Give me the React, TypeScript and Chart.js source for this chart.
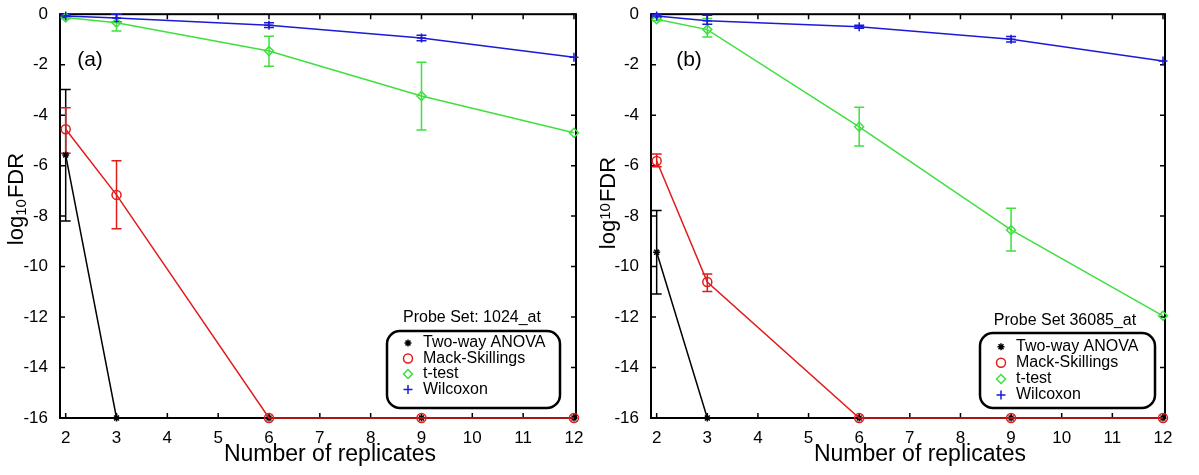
import React, { useEffect, useRef } from 'react';
import { Chart, registerables } from 'chart.js';

Chart.register(...registerables);

// ---------- data ----------
const replicates = [2, 3, 6, 9, 12];
const xTickValues = [2, 3, 4, 5, 6, 7, 8, 9, 10, 11, 12];
const yTickValues = [0, -2, -4, -6, -8, -10, -12, -14, -16];
const seriesNames = ['Two-way ANOVA', 'Mack-Skillings', 't-test', 'Wilcoxon'];

// Panel (a): Probe Set 1024_at
const anovaA = [-5.58, -16, -16, -16, -16];
const anovaHiA = [-2.98, null, null, null, null];
const anovaLoA = [-8.19, null, null, null, null];
const mackA = [-4.56, -7.16, -16, -16, -16];
const mackHiA = [-3.71, -5.81, null, null, null];
const mackLoA = [-5.51, -8.5, null, null, null];
const ttestA = [-0.13, -0.34, -1.46, -3.24, -4.7];
const ttestHiA = [-0.08, 0.0, -0.87, -1.9, null];
const ttestLoA = [-0.18, -0.67, -2.06, -4.59, null];
const wilcoxA = [-0.07, -0.15, -0.44, -0.94, -1.71];
const wilcoxHiA = [-0.02, 0.0, -0.34, -0.83, null];
const wilcoxLoA = [-0.12, -0.3, -0.53, -1.05, null];

// Panel (b): Probe Set 36085_at
const anovaB = [-9.43, -16, -16, -16, -16];
const anovaHiB = [-7.78, null, null, null, null];
const anovaLoB = [-11.09, null, null, null, null];
const mackB = [-5.82, -10.61, -16, -16, -16];
const mackHiB = [-5.54, -10.29, null, null, null];
const mackLoB = [-6.04, -10.99, null, null, null];
const ttestB = [-0.2, -0.61, -4.46, -8.55, -11.95];
const ttestHiB = [-0.14, -0.17, -3.69, -7.69, null];
const ttestLoB = [-0.26, -0.9, -5.22, -9.38, null];
const wilcoxB = [-0.07, -0.26, -0.5, -0.99, -1.85];
const wilcoxHiB = [-0.02, -0.04, -0.44, -0.88, null];
const wilcoxLoB = [-0.12, -0.4, -0.56, -1.1, null];

// ---------- style ----------
const FONT = '"Liberation Sans", Arial, sans-serif';
const COLORS = ['#000000', '#e21b1b', '#3ee03e', '#1a1ad8'];
const MARKERS = ['star', 'circle', 'diamond', 'plus'];
const X_MIN = 1.888;
const X_MAX = 12.04;

type Num = number | null;
type SeriesSpec = { values: number[]; hi: Num[]; lo: Num[] };

type PanelSpec = {
  left: number;
  width: number;
  axisWidth: number;
  padRight: number;
  panelLabel: string;
  labelPos: [number, number];
  yTitlePos: [number, number];
  yTitleMode: 'sub' | 'sup';
  xTitleX: number;
  probeText: string;
  probePos: [number, number];
  legendBox: [number, number, number, number];
  legendRows: number[];
  legendMarkerX: number;
  legendTextX: number;
  series: SeriesSpec[];
};

const panels: PanelSpec[] = [
  {
    left: 0,
    width: 598,
    axisWidth: 60,
    padRight: 22,
    panelLabel: '(a)',
    labelPos: [90, 60],
    yTitlePos: [17, 199],
    yTitleMode: 'sub',
    xTitleX: 330,
    probeText: 'Probe Set: 1024_at',
    probePos: [472, 318],
    legendBox: [387, 331, 560, 408],
    legendRows: [343, 358.5, 374, 389.5],
    legendMarkerX: 408,
    legendTextX: 423,
    series: [
      { values: anovaA, hi: anovaHiA, lo: anovaLoA },
      { values: mackA, hi: mackHiA, lo: mackLoA },
      { values: ttestA, hi: ttestHiA, lo: ttestLoA },
      { values: wilcoxA, hi: wilcoxHiA, lo: wilcoxLoA },
    ],
  },
  {
    left: 598,
    width: 601,
    axisWidth: 53,
    padRight: 34,
    panelLabel: '(b)',
    labelPos: [91, 60],
    yTitlePos: [11, 203],
    yTitleMode: 'sup',
    xTitleX: 322,
    probeText: 'Probe Set 36085_at',
    probePos: [467, 321],
    legendBox: [382, 333, 557, 408],
    legendRows: [346.7, 362.7, 379, 395],
    legendMarkerX: 403,
    legendTextX: 418,
    series: [
      { values: anovaB, hi: anovaHiB, lo: anovaLoB },
      { values: mackB, hi: mackHiB, lo: mackLoB },
      { values: ttestB, hi: ttestHiB, lo: ttestLoB },
      { values: wilcoxB, hi: wilcoxHiB, lo: wilcoxLoB },
    ],
  },
];

function drawMarker(ctx: CanvasRenderingContext2D, style: string, x: number, y: number, r: number, color: string) {
  ctx.save();
  ctx.strokeStyle = color;
  ctx.lineWidth = 1.5;
  ctx.beginPath();
  if (style === 'star') {
    for (let k = 0; k < 4; k++) {
      const a = (k * Math.PI) / 4;
      ctx.moveTo(x + r * Math.cos(a), y + r * Math.sin(a));
      ctx.lineTo(x - r * Math.cos(a), y - r * Math.sin(a));
    }
  } else if (style === 'circle') {
    ctx.arc(x, y, r, 0, Math.PI * 2);
  } else if (style === 'diamond') {
    ctx.moveTo(x, y - r);
    ctx.lineTo(x + r, y);
    ctx.lineTo(x, y + r);
    ctx.lineTo(x - r, y);
    ctx.closePath();
  } else {
    ctx.moveTo(x - r, y);
    ctx.lineTo(x + r, y);
    ctx.moveTo(x, y - r);
    ctx.lineTo(x, y + r);
  }
  ctx.stroke();
  ctx.restore();
}

function roundRect(ctx: CanvasRenderingContext2D, x0: number, y0: number, x1: number, y1: number, r: number) {
  ctx.beginPath();
  ctx.moveTo(x0 + r, y0);
  ctx.lineTo(x1 - r, y0);
  ctx.arcTo(x1, y0, x1, y0 + r, r);
  ctx.lineTo(x1, y1 - r);
  ctx.arcTo(x1, y1, x1 - r, y1, r);
  ctx.lineTo(x0 + r, y1);
  ctx.arcTo(x0, y1, x0, y1 - r, r);
  ctx.lineTo(x0, y0 + r);
  ctx.arcTo(x0, y0, x0 + r, y0, r);
  ctx.closePath();
}

function makeDecor(spec: PanelSpec) {
  return {
    id: 'decor',
    beforeDatasetsDraw(chart: any) {
      const ctx: CanvasRenderingContext2D = chart.ctx;
      const { left, right, top, bottom } = chart.chartArea;
      const xs = chart.scales.x;
      const ys = chart.scales.y;
      ctx.save();
      // ticks inside
      ctx.strokeStyle = '#000';
      ctx.lineWidth = 1.5;
      ctx.beginPath();
      xTickValues.forEach((v) => {
        const px = xs.getPixelForValue(v);
        ctx.moveTo(px, bottom);
        ctx.lineTo(px, bottom - 5);
        ctx.moveTo(px, top);
        ctx.lineTo(px, top + 5);
      });
      yTickValues.forEach((v) => {
        const py = ys.getPixelForValue(v);
        ctx.moveTo(left, py);
        ctx.lineTo(left + 5, py);
        ctx.moveTo(right, py);
        ctx.lineTo(right - 5, py);
      });
      ctx.stroke();
      // box
      ctx.lineWidth = 2;
      ctx.strokeRect(left, top, right - left, bottom - top);
      // error bars
      [0, 1, 2, 3].forEach((si) => {
        const s = spec.series[si];
        ctx.strokeStyle = COLORS[si];
        ctx.lineWidth = 1.5;
        ctx.beginPath();
        replicates.forEach((xv, j) => {
          const hi = s.hi[j];
          const lo = s.lo[j];
          if (hi === null || lo === null) return;
          const px = xs.getPixelForValue(xv);
          const pyh = ys.getPixelForValue(hi);
          const pyl = ys.getPixelForValue(lo);
          const cw = 5;
          ctx.moveTo(px, pyh);
          ctx.lineTo(px, pyl);
          ctx.moveTo(px - cw, pyh);
          ctx.lineTo(px + cw, pyh);
          ctx.moveTo(px - cw, pyl);
          ctx.lineTo(px + cw, pyl);
        });
        ctx.stroke();
      });
      ctx.restore();
    },
    afterDraw(chart: any) {
      const ctx: CanvasRenderingContext2D = chart.ctx;
      ctx.save();
      ctx.fillStyle = '#000';
      // panel label
      ctx.font = `21px ${FONT}`;
      ctx.textAlign = 'center';
      ctx.textBaseline = 'middle';
      ctx.fillText(spec.panelLabel, spec.labelPos[0], spec.labelPos[1]);
      // x title
      ctx.font = `23px ${FONT}`;
      ctx.fillText('Number of replicates', spec.xTitleX, 455);
      // y title (rotated)
      ctx.save();
      ctx.translate(spec.yTitlePos[0], spec.yTitlePos[1]);
      ctx.rotate(-Math.PI / 2);
      const big = `22px ${FONT}`;
      const small = `15px ${FONT}`;
      ctx.textAlign = 'left';
      ctx.textBaseline = 'middle';
      ctx.font = big;
      const w1 = ctx.measureText('log').width;
      const w3 = ctx.measureText('FDR').width;
      ctx.font = small;
      const w2 = ctx.measureText('10').width;
      const total = w1 + w2 + w3 + 1;
      let cx = -total / 2;
      ctx.font = big;
      ctx.fillText('log', cx, 0);
      cx += w1;
      ctx.font = small;
      ctx.fillText('10', cx, spec.yTitleMode === 'sub' ? 5 : -3);
      cx += w2 + 1;
      ctx.font = big;
      ctx.fillText('FDR', cx, 0);
      ctx.restore();
      // probe text
      ctx.font = `16px ${FONT}`;
      ctx.textAlign = 'center';
      ctx.fillText(spec.probeText, spec.probePos[0], spec.probePos[1]);
      // legend box
      const [bx0, by0, bx1, by1] = spec.legendBox;
      ctx.fillStyle = '#fff';
      roundRect(ctx, bx0, by0, bx1, by1, 13);
      ctx.fill();
      ctx.strokeStyle = '#000';
      ctx.lineWidth = 2.5;
      ctx.stroke();
      ctx.fillStyle = '#000';
      ctx.textAlign = 'left';
      ctx.font = `16px ${FONT}`;
      seriesNames.forEach((name, i) => {
        const y = spec.legendRows[i];
        drawMarker(ctx, MARKERS[i], spec.legendMarkerX, y, i === 0 ? 3.5 : 4.5, COLORS[i]);
        ctx.fillText(name, spec.legendTextX, y);
      });
      ctx.restore();
    },
  };
}

const chartStyles = ['star', 'circle', 'rectRot', 'cross'];
const pointRadii = [3.5, 4.5, 4.5, 4.5];
const drawOrders = [3, 2, 1, 0];

function Panel({ spec }: { spec: PanelSpec }) {
  const ref = useRef<HTMLCanvasElement | null>(null);
  useEffect(() => {
    if (!ref.current) return;
    const chart = new Chart(ref.current, {
      type: 'line',
      data: {
        datasets: spec.series.map((s, i) => ({
          label: seriesNames[i],
          data: replicates.map((x, j) => ({ x, y: s.values[j] })),
          borderColor: COLORS[i],
          backgroundColor: 'rgba(0,0,0,0)',
          pointBackgroundColor: 'rgba(0,0,0,0)',
          pointBorderColor: COLORS[i],
          pointStyle: chartStyles[i] as any,
          pointRadius: pointRadii[i],
          pointBorderWidth: 1.5,
          borderWidth: 1.5,
          tension: 0,
          order: drawOrders[i],
          clip: false as any,
        })),
      },
      options: {
        responsive: false,
        maintainAspectRatio: false,
        animation: false,
        events: [],
        layout: { padding: { top: 14, right: spec.padRight, left: 0, bottom: 0 } },
        plugins: { legend: { display: false }, tooltip: { enabled: false } },
        scales: {
          x: {
            type: 'linear',
            min: X_MIN,
            max: X_MAX,
            grid: { display: false },
            border: { display: false },
            ticks: {
              color: '#000',
              font: { family: FONT, size: 17 },
              padding: 2,
              autoSkip: false,
              maxRotation: 0,
              callback: (v: any) => String(v),
            },
            afterBuildTicks: (scale: any) => {
              scale.ticks = xTickValues.map((v) => ({ value: v }));
            },
            afterFit: (scale: any) => {
              scale.height = 57;
            },
          },
          y: {
            type: 'linear',
            min: -16,
            max: 0,
            grid: { display: false },
            border: { display: false },
            ticks: {
              color: '#000',
              font: { family: FONT, size: 17 },
              padding: 4,
              autoSkip: false,
              callback: (v: any) => String(v),
            },
            afterBuildTicks: (scale: any) => {
              scale.ticks = yTickValues.map((v) => ({ value: v }));
            },
            afterFit: (scale: any) => {
              scale.width = spec.axisWidth;
            },
          },
        },
      },
      plugins: [makeDecor(spec)],
    });
    return () => chart.destroy();
  }, [spec]);
  return (
    <canvas
      ref={ref}
      width={spec.width}
      height={475}
      style={{ position: 'absolute', left: spec.left, top: 0, width: spec.width, height: 475, display: 'block' }}
    />
  );
}

export default function App() {
  return (
    <div style={{ position: 'fixed', left: 0, top: 0, width: 1199, height: 475, background: '#fff', overflow: 'hidden' }}>
      {panels.map((p) => (
        <Panel key={p.panelLabel} spec={p} />
      ))}
    </div>
  );
}
